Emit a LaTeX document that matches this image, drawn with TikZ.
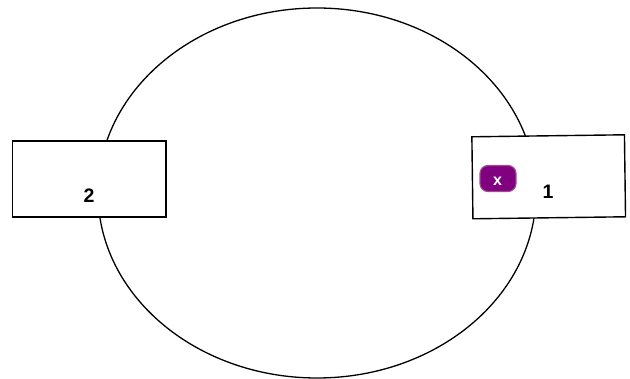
\documentclass[tikz,border=0pt]{standalone}
\usepackage{fontspec}
\usetikzlibrary{shapes.geometric}
\setmainfont{Liberation Sans}
\definecolor{pillfill}{HTML}{800080}
\definecolor{pillborder}{HTML}{A04A90}
\begin{document}
\begin{tikzpicture}[x=1pt,y=-1pt,
  box/.style={draw=black,line width=1.4pt,fill=white,minimum width=153.7pt,minimum height=76pt,inner sep=0pt},
  lbl/.style={font=\bfseries\fontsize{19.5}{19.5}\selectfont,inner sep=0pt},
  pill/.style={draw=pillborder,fill=pillfill,rounded corners=8pt,line width=1.2pt,minimum width=36pt,minimum height=26pt,inner sep=0pt,text=white,font=\bfseries\fontsize{16}{16}\selectfont}]
\useasboundingbox (0,0) rectangle (630,379);
\node[draw=black,line width=1.3pt,ellipse,minimum width=438pt,minimum height=370pt,inner sep=0pt] (ring) at (317,193) {};
\node[box] (b2) at (89.2,179.2) {};
\node[box,minimum width=152.6pt,minimum height=82pt,rotate=0.75] (b1) at (548.7,176.8) {};
\node[lbl] (t2) at (89,196) {2};
\node[lbl] (t1) at (548,192) {1};
\node[pill] (x) at (498,178.5) {};
\node[text=white,font=\bfseries\fontsize{16}{16}\selectfont,inner sep=0pt] (xt) at (497.5,181) {x};
\end{tikzpicture}
\end{document}
